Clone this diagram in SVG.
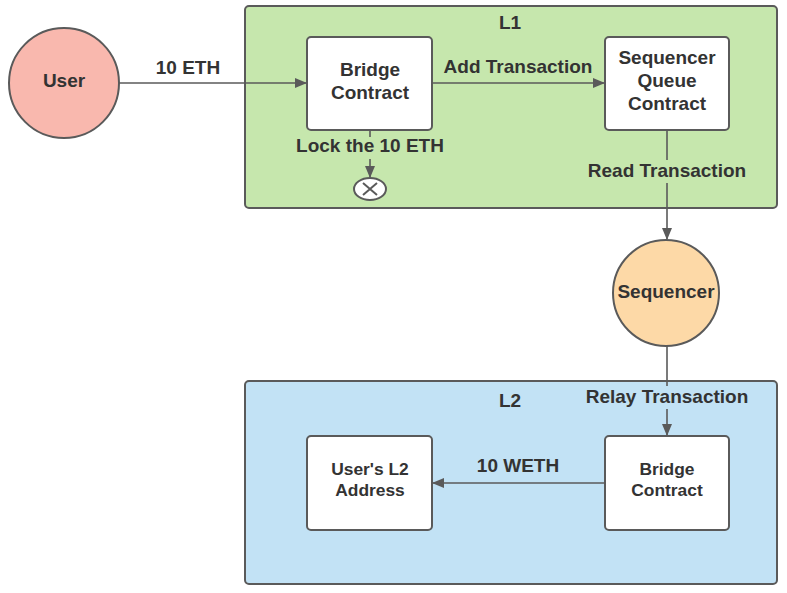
<svg xmlns="http://www.w3.org/2000/svg" width="787" height="593" viewBox="0 0 787 593">
<style>
.t{font-family:"Liberation Sans",Arial,sans-serif;font-weight:bold;fill:#333333;text-anchor:middle}
.box{fill:#ffffff;stroke:#5a5a5a;stroke-width:2}
.con{fill:none;stroke:#5a5a5a;stroke-width:1.6}
</style>
<defs>
<marker id="ah" markerWidth="12" markerHeight="10" refX="11" refY="5" orient="auto" markerUnits="userSpaceOnUse">
<path d="M0,0 L12,5 L0,10 Z" fill="#5a5a5a"/>
</marker>
</defs>
<rect width="787" height="593" fill="#ffffff"/>
<g id="L1">
<rect x="245" y="6" width="532" height="202" rx="4" fill="#c6e7ad" stroke="#5a5a5a" stroke-width="2"/>
<text class="t" x="510" y="29" font-size="19">L1</text>
</g>
<g id="L2">
<rect x="245" y="381" width="532" height="203" rx="4" fill="#c2e2f5" stroke="#5a5a5a" stroke-width="2"/>
<text class="t" x="510" y="407" font-size="19">L2</text>
</g>
<g id="user">
<circle cx="64" cy="83" r="55" fill="#f9b8ae" stroke="#5a5a5a" stroke-width="2"/>
<text class="t" x="64" y="87" font-size="19">User</text>
</g>
<g id="bridge-l1">
<rect class="box" x="307" y="37" width="125" height="93" rx="4"/>
<text class="t" x="370" y="76" font-size="19">Bridge</text>
<text class="t" x="370" y="99" font-size="19">Contract</text>
</g>
<g id="queue">
<rect class="box" x="605" y="37" width="124" height="93" rx="4"/>
<text class="t" x="667" y="64" font-size="19">Sequencer</text>
<text class="t" x="667" y="87" font-size="19">Queue</text>
<text class="t" x="667" y="110" font-size="19">Contract</text>
</g>
<g id="lock">
<ellipse cx="370" cy="189" rx="16" ry="11" fill="#ffffff" stroke="#5a5a5a" stroke-width="2"/>
<path d="M363,183 L377,195 M377,183 L363,195" stroke="#5a5a5a" stroke-width="2" fill="none"/>
</g>
<g id="sequencer">
<circle cx="666" cy="293" r="53" fill="#fdd9a7" stroke="#5a5a5a" stroke-width="2"/>
<text class="t" x="666" y="298" font-size="19">Sequencer</text>
</g>
<g id="l2address">
<rect class="box" x="307" y="436" width="125" height="94" rx="4"/>
<text class="t" x="370" y="475" font-size="17.4">User's L2</text>
<text class="t" x="370" y="496" font-size="17.4">Address</text>
</g>
<g id="bridge-l2">
<rect class="box" x="605" y="436" width="124" height="94" rx="4"/>
<text class="t" x="667" y="475" font-size="17.4">Bridge</text>
<text class="t" x="667" y="496" font-size="17.4">Contract</text>
</g>
<g id="connectors">
<line class="con" x1="119" y1="83" x2="306" y2="83" marker-end="url(#ah)"/>
<text class="t" x="188" y="74" font-size="19">10 ETH</text>
<line class="con" x1="432" y1="83" x2="604" y2="83" marker-end="url(#ah)"/>
<text class="t" x="518" y="73" font-size="19">Add Transaction</text>
<line class="con" x1="370" y1="130" x2="370" y2="137"/>
<line class="con" x1="370" y1="159" x2="370" y2="177" marker-end="url(#ah)"/>
<text class="t" x="370" y="152" font-size="19">Lock the 10 ETH</text>
<line class="con" x1="667" y1="130" x2="667" y2="160"/>
<line class="con" x1="667" y1="183" x2="667" y2="239" marker-end="url(#ah)"/>
<text class="t" x="667" y="177" font-size="19">Read Transaction</text>
<line class="con" x1="667" y1="346" x2="667" y2="386"/>
<line class="con" x1="667" y1="409" x2="667" y2="435" marker-end="url(#ah)"/>
<text class="t" x="667" y="403" font-size="19">Relay Transaction</text>
<line class="con" x1="605" y1="483" x2="433" y2="483" marker-end="url(#ah)"/>
<text class="t" x="518" y="472" font-size="19">10 WETH</text>
</g>
</svg>
